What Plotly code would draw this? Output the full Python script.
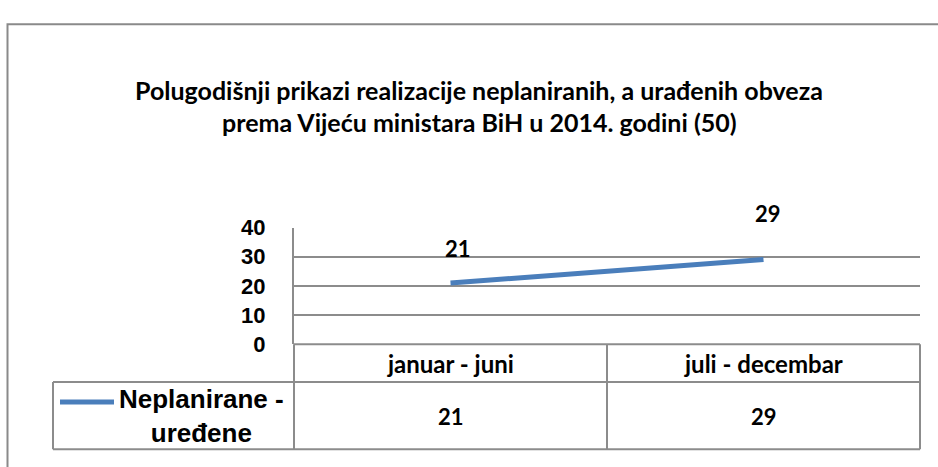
import plotly.graph_objects as go

W, H = 938, 467

def px(x):
    return x / W

def py(y):
    return 1 - y / H

# ---- data ----
CATEGORIES = ["januar - juni", "juli - decembar"]
VALUES = [21, 29]
SERIES_NAME = "Neplanirane -<br>uređene"
TITLE_LINES = [
    "Polugodišnji prikazi realizacije neplaniranih, a urađenih obveza",
    "prema Vijeću ministara BiH u 2014. godini (50)",
]
Y_TICKS = [0, 10, 20, 30, 40]

# ---- style ----
LINE_COLOR = "#4A7EBB"
GRID = "#8c8c8c"
CAL = "Lato"
ARIAL = "Liberation Sans"
LABEL_XSHIFT = [7, 4]
LABEL_YSHIFT = [34, 46]

fig = go.Figure()
fig.add_trace(go.Scatter(
    x=CATEGORIES, y=VALUES, mode="lines",
    line=dict(color=LINE_COLOR, width=5),
    hoverinfo="skip", showlegend=False,
))

PL, PR, PT, PB = 294, 920, 227.7, 351
TB_MID, TB_BOT, LEG_L, COL_SEP = 391, 462, 53, 607

fig.update_layout(
    width=W, height=H,
    margin=dict(l=0, r=0, t=0, b=0),
    paper_bgcolor="white", plot_bgcolor="white",
    showlegend=False,
    xaxis=dict(domain=[px(PL), px(PR)], type="category", range=[-0.5, 1.5],
               showticklabels=False, showgrid=False, zeroline=False, showline=False,
               fixedrange=True),
    yaxis=dict(domain=[py(PB), py(PT)], range=[0, 40], tickvals=Y_TICKS,
               showgrid=True, gridcolor=GRID, gridwidth=2, zeroline=False,
               showline=True, linecolor=GRID, linewidth=2, ticks="",
               ticklabelstandoff=22,
               tickfont=dict(family=ARIAL, size=22, color="black", weight="bold"),
               fixedrange=True),
)

shapes = []
# outer frame
shapes.append(dict(type="rect", xref="paper", yref="paper",
                   x0=px(7.5), x1=px(960), y0=py(13), y1=py(490),
                   line=dict(color="#8a8a8a", width=2), fillcolor="rgba(0,0,0,0)", layer="below"))

def hline(y, x0, x1):
    shapes.append(dict(type="line", xref="paper", yref="paper",
                       x0=px(x0), x1=px(x1), y0=py(y), y1=py(y),
                       line=dict(color=GRID, width=2)))

def vline(x, y0, y1):
    shapes.append(dict(type="line", xref="paper", yref="paper",
                       x0=px(x), x1=px(x), y0=py(y0), y1=py(y1),
                       line=dict(color=GRID, width=2)))

hline(PB, PL, PR)
hline(TB_MID, LEG_L, PR)
hline(TB_BOT, LEG_L, PR)
vline(PL, PB, TB_BOT)
vline(COL_SEP, PB, TB_BOT)
vline(PR, PB, TB_BOT)
vline(LEG_L, TB_MID, TB_BOT)
# legend key
shapes.append(dict(type="line", xref="paper", yref="paper",
                   x0=px(60), x1=px(114), y0=py(412), y1=py(412),
                   line=dict(color=LINE_COLOR, width=5)))
fig.update_layout(shapes=shapes)

ann = []
for i, t in enumerate(TITLE_LINES):
    ann.append(dict(text=t, xref="paper", yref="paper", x=px(479), y=py(82 + 34 * i),
                    xanchor="center", yanchor="middle", showarrow=False,
                    font=dict(family=CAL, size=25, color="black", weight="bold")))
for i, (c, v) in enumerate(zip(CATEGORIES, VALUES)):
    ann.append(dict(text=str(v), xref="x", yref="y", x=c, y=v,
                    xshift=LABEL_XSHIFT[i], yshift=LABEL_YSHIFT[i],
                    showarrow=False, xanchor="center", yanchor="middle",
                    font=dict(family=CAL, size=22, color="black", weight="bold")))
    ann.append(dict(text=c, xref="x", yref="paper", x=c, y=py(371),
                    showarrow=False, xanchor="center", yanchor="middle",
                    font=dict(family=CAL, size=24, color="black", weight="bold")))
    ann.append(dict(text=str(v), xref="x", yref="paper", x=c, y=py(427),
                    showarrow=False, xanchor="center", yanchor="middle",
                    font=dict(family=CAL, size=22, color="black", weight="bold")))
ann.append(dict(text=SERIES_NAME, xref="paper", yref="paper", x=px(201), y=py(427),
                showarrow=False, xanchor="center", yanchor="middle", align="center",
                font=dict(family=ARIAL, size=26, color="black", weight="bold")))
fig.update_layout(annotations=ann)

fig.write_html("out.html")
